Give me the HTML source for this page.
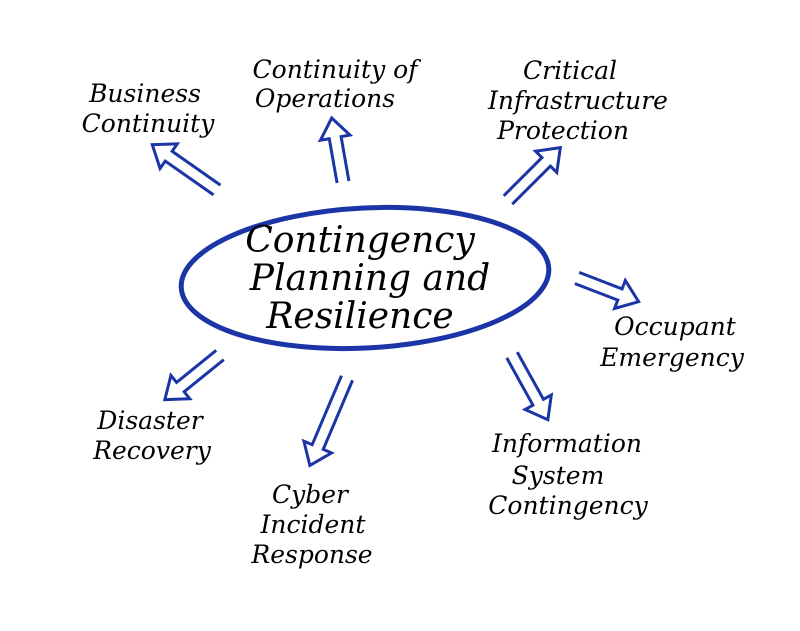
<!DOCTYPE html>
<html><head><style>
body{margin:0;background:#fff;}
svg text{font-family:"DejaVu Serif","Liberation Serif",serif;font-style:italic;fill:#000;text-anchor:middle;}
</style></head><body>
<svg width="800" height="626" viewBox="0 0 800 626" xmlns="http://www.w3.org/2000/svg">
<ellipse cx="365" cy="278" rx="184" ry="70" fill="none" stroke="#1b35a6" stroke-width="5" transform="rotate(-3 365 278)"/>
<g fill="none" stroke="#1b35a6" stroke-width="3" stroke-linejoin="miter">
<path transform="translate(217,190) rotate(-55)" d="M-6,0 L-6,-59 L-15,-59 L0,-79 L15,-59 L6,-59 L6,0"/>
<path transform="translate(343,182) rotate(-10)" d="M-6,0 L-6,-45 L-15,-45 L0,-65 L15,-45 L6,-45 L6,0"/>
<path transform="translate(508,200) rotate(45)" d="M-6,0 L-6,-54 L-15,-54 L0,-74 L15,-54 L6,-54 L6,0"/>
<path transform="translate(577,278) rotate(111)" d="M-6,0 L-6,-46 L-15,-46 L0,-66 L15,-46 L6,-46 L6,0"/>
<path transform="translate(512,355) rotate(151)" d="M-6,0 L-6,-54 L-15,-54 L0,-74 L15,-54 L6,-54 L6,0"/>
<path transform="translate(347,378) rotate(-157)" d="M-6,0 L-6,-75 L-15,-75 L0,-95 L15,-75 L6,-75 L6,0"/>
<path transform="translate(220,355) rotate(-129)" d="M-6,0 L-6,-51 L-15,-51 L0,-71 L15,-51 L6,-51 L6,0"/>
</g>
<g font-size="36">
<text x="360" y="252">Contingency</text>
<text x="370" y="290">Planning and</text>
<text x="360" y="328">Resilience</text>
</g>
<g font-size="25">
<text x="145" y="102">Business</text>
<text x="148" y="132">Continuity</text>
<text x="335" y="78">Continuity of</text>
<text x="325" y="107">Operations</text>
<text x="570" y="79">Critical</text>
<text x="578" y="109">Infrastructure</text>
<text x="563" y="139">Protection</text>
<text x="675" y="335">Occupant</text>
<text x="672" y="366">Emergency</text>
<text x="567" y="452">Information</text>
<text x="558" y="484">System</text>
<text x="568" y="514">Contingency</text>
<text x="310" y="503">Cyber</text>
<text x="313" y="533">Incident</text>
<text x="312" y="563">Response</text>
<text x="150" y="429">Disaster</text>
<text x="152" y="459">Recovery</text>
</g>
</svg>
</body></html>
